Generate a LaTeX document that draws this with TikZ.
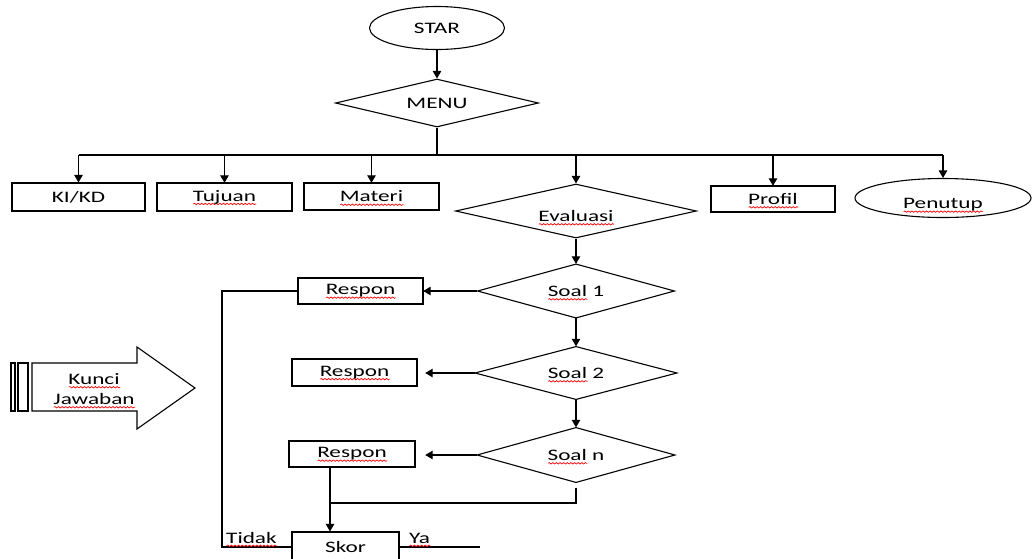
\documentclass[tikz,border=0pt]{standalone}
\usepackage{fontspec}
\setmainfont{Carlito}
\usepackage{graphicx}
\usetikzlibrary{shapes.geometric,arrows.meta,decorations.pathmorphing}
\newsavebox\sqbox
\newcommand\sq[1]{\sbox\sqbox{#1}\rlap{\smash{\tikz[baseline=0pt]\draw[red,line width=0.6pt,decorate,decoration={snake,amplitude=0.7pt,segment length=2.5pt}] (0pt,-2.8pt) -- (\the\wd\sqbox,-2.8pt);}}\usebox\sqbox}
\newcommand\wtxt[1]{\scalebox{1.45}[1]{#1}}
\tikzset{
  every node/.style={font=\fontsize{16}{20}\selectfont},
  box/.style={draw, rectangle, inner sep=0pt},
  dia/.style={draw, diamond, inner sep=0pt, shape aspect=4},
  oval/.style={draw, ellipse, inner sep=0pt},
  ln/.style={line width=1.1pt},
  arr/.style={ln, -{Triangle[length=7.5pt,width=8.5pt]}},
}
\begin{document}
\begin{tikzpicture}[x=1pt,y=-1pt,line width=1.1pt]
\useasboundingbox (0,0) rectangle (1034,558);
% top
\node[oval, minimum width=135pt, minimum height=43pt] (star) at (437,28) {\wtxt{STAR}};
\node[dia, minimum width=203pt, minimum height=48pt] (menu) at (437,103) {\wtxt{MENU}};
\draw[arr] (star.south) -- (menu.north);
% menu items
\node[box, minimum width=133pt, minimum height=28pt] (ki) at (78.5,197) {\wtxt{KI/KD}};
\node[box, minimum width=135pt, minimum height=28pt] (tuj) at (224.5,197) {\wtxt{\sq{Tujuan}}};
\node[box, minimum width=135pt, minimum height=27pt] (mat) at (371.5,196.5) {\wtxt{\sq{Materi}}};
\node[dia, minimum width=241pt, minimum height=54pt] (eva) at (576,211) {};
\node (evat) at (576,216) {\wtxt{\sq{Evaluasi}}};
\node[box, minimum width=124pt, minimum height=26pt] (pro) at (773,199) {\wtxt{\sq{Profil}}};
\node[oval, minimum width=176pt, minimum height=39pt] (pen) at (943,198) {};
\node (pent) at (943,205) {\wtxt{\sq{Penutup}}};
\coordinate (bar) at (437,155);
\draw[ln] (menu.south) -- (bar);
\draw[ln] (ki.north |- bar) -- (pen.north |- bar);
\foreach \n in {ki,tuj,mat,eva,pro,pen} \draw[arr] (\n.north |- bar) -- (\n.north);
% questions
\node[dia, minimum width=197pt, minimum height=54pt] (s1) at (576,291) {\wtxt{\sq{Soal} 1}};
\node[dia, minimum width=202pt, minimum height=53pt] (s2) at (576,373) {\wtxt{\sq{Soal} 2}};
\node[dia, minimum width=198pt, minimum height=55pt] (sn) at (576,455) {\wtxt{\sq{Soal} n}};
\draw[arr] (eva.south) -- (s1.north);
\draw[arr] (s1.south) -- (s2.north);
\draw[arr] (s2.south) -- (sn.north);
% responses
\node[box, minimum width=125pt, minimum height=26pt] (r1) at (360.5,291) {\wtxt{\sq{Respon}}};
\node[box, minimum width=125pt, minimum height=27pt] (r2) at (354.5,372.5) {\wtxt{\sq{Respon}}};
\node[box, minimum width=126pt, minimum height=26pt] (r3) at (352,454) {\wtxt{\sq{Respon}}};
\node[box, minimum width=107pt, minimum height=30pt] (skor) at (345.5,547) {\wtxt{Skor}};
\draw[arr] (s1.west) -- (s1.west -| r1.east);
\draw[arr, shorten >=8pt] (s2.west) -- (s2.west -| r2.east);
\draw[arr, shorten >=10pt] (sn.west) -- (sn.west -| r3.east);
% loops
\coordinate (L) at (222,547);
\coordinate (Y) at (480,547);
\coordinate (J) at (330,503);
\draw[ln] (r1.west) -| (L) -- (skor.west);
\draw[ln] (skor.east) -- (Y);
\draw[ln] ([yshift=-5pt]sn.south) |- (J);
\draw[arr] (r3.south -| J) -- (skor.north -| J);
\node[anchor=base west, inner sep=0pt] (tidak) at (226,543) {\wtxt{\sq{Tidak}}};
\node[anchor=base west, inner sep=0pt] (ya) at (409,543) {\wtxt{\sq{Ya}}};
% striped arrow
\draw[ln] (11,363) rectangle (15,411);
\draw[ln] (18,363) rectangle (28,411);
\draw[ln] (32,363) -- (137,363) -- (137,347) -- (195,388) -- (137,429) -- (137,411) -- (32,411) -- cycle;
\node[align=center, inner sep=0pt] (kunci) at (94,389) {\wtxt{\sq{Kunci}}\\\wtxt{\sq{Jawaban}}};
\end{tikzpicture}
\end{document}
